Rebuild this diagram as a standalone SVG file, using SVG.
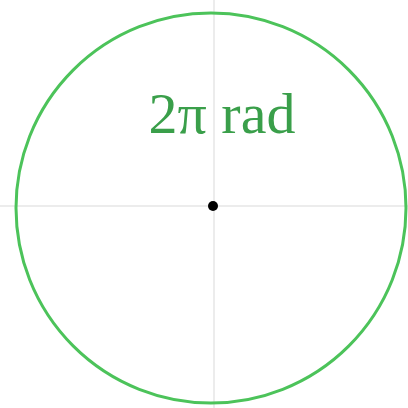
<svg xmlns="http://www.w3.org/2000/svg" width="408" height="408" viewBox="0 0 408 408">
<style>
.axis{stroke:#e6e6e6;stroke-width:1.5;fill:none}
.circ{stroke:#4cc35a;stroke-width:3;fill:none}
.lbl{font-family:"Liberation Serif","DejaVu Serif",serif;font-size:58px;fill:#3a9f4a}
</style>
<rect width="408" height="408" fill="#ffffff"/>
<g id="axes">
<line class="axis" x1="0" y1="206" x2="408" y2="206"/>
<line class="axis" x1="214" y1="0" x2="214" y2="408"/>
</g>
<g id="circle">
<circle class="circ" cx="211" cy="208" r="195"/>
</g>
<g id="center">
<circle cx="213" cy="206" r="5" fill="#000"/>
</g>
<g id="label">
<text class="lbl" x="222" y="133" text-anchor="middle">2π rad</text>
</g>
</svg>
